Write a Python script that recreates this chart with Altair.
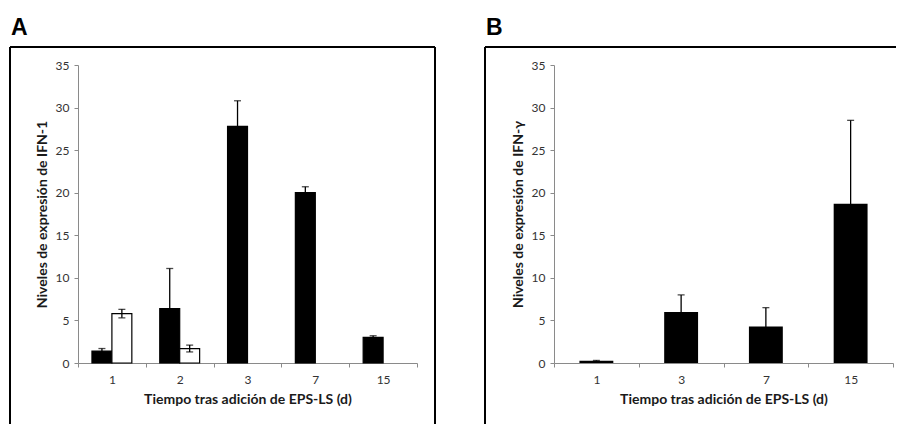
import altair as alt
import pandas as pd

# ---------------- data ----------------
days_a = ["1", "2", "3", "7", "15"]
series_names = ["negro", "blanco"]
black_a = [1.4, 6.4, 27.8, 20.0, 3.0]
black_err_a = [0.3, 4.7, 3.0, 0.7, 0.2]
white_days_a = ["1", "2"]
white_a = [5.8, 1.7]
white_err_a = [0.5, 0.4]

days_b = ["1", "3", "7", "15"]
vals_b = [0.25, 6.0, 4.3, 18.7]
err_b = [0.05, 2.0, 2.2, 9.8]

y_ticks = [0, 5, 10, 15, 20, 25, 30, 35]
x_title = "Tiempo tras adición de EPS-LS (d)"
y_title_a = "Niveles de expresión de IFN-1"
y_title_b = "Niveles de expresión de IFN-γ"

rows_a = []
for d, v, e in zip(days_a, black_a, black_err_a):
    rows_a.append({"day": d, "series": "negro", "value": v, "lo": v - e, "hi": v + e})
for d, v, e in zip(white_days_a, white_a, white_err_a):
    rows_a.append({"day": d, "series": "blanco", "value": v, "lo": v - e, "hi": v + e})
df_a = pd.DataFrame(rows_a)

df_b = pd.DataFrame({"day": days_b, "value": vals_b,
                     "lo": [v - e for v, e in zip(vals_b, err_b)],
                     "hi": [v + e for v, e in zip(vals_b, err_b)]})

one = pd.DataFrame({"k": [0]})

W, H = 339, 298
FONT = "Lato"

yscale = alt.Scale(domain=[0, 35], nice=False, zero=True)


def y_axis(title):
    return alt.Axis(values=y_ticks, title=title, tickSize=4, labelPadding=5,
                    titlePadding=6, grid=False)


def x_axis():
    return alt.Axis(title=x_title, labelAngle=0, tickBand="extent", tickSize=4,
                    labelPadding=7, titlePadding=7, grid=False)


def decorations(letter, left, right, top, bottom, full_bg=None):
    layers = []
    if full_bg is not None:
        bx1, bx2, by1, by2 = full_bg
        layers.append(alt.Chart(one).mark_rect(opacity=0, fill="white").encode(
            x=alt.value(bx1), x2=alt.value(bx2), y=alt.value(by1), y2=alt.value(by2)))
    layers.append(alt.Chart(one).mark_rule(color="black", strokeWidth=2).encode(
        x=alt.value(left), y=alt.value(top), y2=alt.value(bottom)))
    layers.append(alt.Chart(one).mark_rule(color="black", strokeWidth=2).encode(
        x=alt.value(left), x2=alt.value(right), y=alt.value(top)))
    layers.append(alt.Chart(one).mark_text(
        text=letter, font="Liberation Sans", fontWeight="bold", fontSize=23,
        align="left", baseline="alphabetic", color="black").encode(
        x=alt.value(left + 1), y=alt.value(top - 12)))
    return layers


# ---------------- panel A ----------------
xa = alt.X("day:N", sort=days_a, scale=alt.Scale(paddingInner=0, paddingOuter=0),
           axis=x_axis())
xoff = alt.XOffset("series:N", sort=series_names,
                   scale=alt.Scale(domain=series_names, paddingInner=0, paddingOuter=0.7))

bars_a = alt.Chart(df_a).mark_bar(stroke="black", strokeWidth=1.2).encode(
    x=xa, xOffset=xoff,
    y=alt.Y("value:Q", scale=yscale, axis=y_axis(y_title_a)),
    fill=alt.Fill("series:N", scale=alt.Scale(domain=series_names, range=["black", "white"]),
                  legend=None),
)
err_a = alt.Chart(df_a).mark_rule(color="black", strokeWidth=1.3).encode(
    x=xa, xOffset=xoff, y=alt.Y("lo:Q", scale=yscale), y2="hi:Q")
cap_hi_a = alt.Chart(df_a).mark_tick(color="black", thickness=1.3, size=7, orient="horizontal").encode(
    x=xa, xOffset=xoff, y=alt.Y("hi:Q", scale=yscale))
cap_lo_a = alt.Chart(df_a).mark_tick(color="black", thickness=1.3, size=7, orient="horizontal").encode(
    x=xa, xOffset=xoff, y=alt.Y("lo:Q", scale=yscale))

deco_a = decorations("A", -68, 357, -18, 359, full_bg=(-78, 820, -65, 361))
# right side of frame A
deco_a.append(alt.Chart(one).mark_rule(color="black", strokeWidth=2).encode(
    x=alt.value(357), y=alt.value(-18), y2=alt.value(359)))

chart_a = alt.layer(*deco_a, bars_a, err_a, cap_hi_a, cap_lo_a).properties(width=W, height=H)

# ---------------- panel B ----------------
xb = alt.X("day:N", sort=days_b, scale=alt.Scale(paddingInner=0, paddingOuter=0),
           axis=x_axis())
bars_b = alt.Chart(df_b).mark_bar(color="black", width=alt.RelativeBandSize(0.4)).encode(
    x=xb, y=alt.Y("value:Q", scale=yscale, axis=y_axis(y_title_b)))
err_b_l = alt.Chart(df_b).mark_rule(color="black", strokeWidth=1.3).encode(
    x=xb, y=alt.Y("lo:Q", scale=yscale), y2="hi:Q")
cap_b = alt.Chart(df_b).mark_tick(color="black", thickness=1.3, size=7, orient="horizontal").encode(
    x=xb, y=alt.Y("hi:Q", scale=yscale))

deco_b = decorations("B", -69, 342, -18, 359)
chart_b = alt.layer(*deco_b, bars_b, err_b_l, cap_b).properties(width=W, height=H)

chart = alt.hconcat(chart_a, chart_b, spacing=137, bounds="flush").properties(
    padding=0, background="white"
).configure_view(stroke=None).configure_axis(
    domainColor="#8a8a8a", tickColor="#8a8a8a", domainWidth=1, tickWidth=1,
    labelColor="#333333", labelFont=FONT, labelFontSize=12,
    titleFont=FONT, titleFontSize=14, titleFontWeight="bold", titleColor="#1a1a1a",
)

chart.save("out.html", embed_options={"renderer": "svg", "actions": False})
